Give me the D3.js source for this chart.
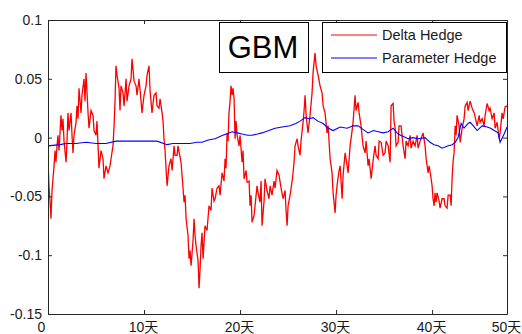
<!DOCTYPE html>
<html><head><meta charset="utf-8">
<script src="https://cdn.jsdelivr.net/npm/d3@7/dist/d3.min.js"></script>
<style>
html,body{margin:0;padding:0;background:#fff;}
svg{display:block;font-family:"Liberation Sans","Noto Sans CJK SC",sans-serif;}
</style></head>
<body><svg id="chart" width="522" height="334"></svg>
<script>
const title = "GBM";
const seriesNames = ["Delta Hedge", "Parameter Hedge"];
const seriesColors = ["#ff0000", "#0000ff"];
const xTickValues = [0, 10, 20, 30, 40, 47.8];
const xTickLabels = ["0", "10天", "20天", "30天", "40天", "50天"];
const yTickValues = [-0.15, -0.1, -0.05, 0, 0.05, 0.1];
const yTickLabels = ["-0.15", "-0.1", "-0.05", "0", "0.05", "0.1"];
const xDomain = [0, 47.8];
const yDomain = [-0.15, 0.1];

// [day, value]
const deltaHedge = [
[0,-0.020],[0.10,-0.041],[0.21,-0.054],[0.31,-0.069],[0.42,-0.045],[0.52,-0.035],[0.63,-0.024],[0.73,-0.011],[0.83,-0.021],[0.94,-0.007],
[1.04,0.002],[1.15,-0.011],[1.35,0.019],[1.46,0.006],[1.56,0.016],[1.67,-0.003],[1.88,-0.021],[1.98,-0.003],[2.08,0.021],[2.19,0.006],
[2.40,0.021],[2.50,0.002],[2.60,-0.013],[2.71,0.002],[2.92,0.013],[3.02,0.027],[3.13,0.016],[3.23,0.042],[3.44,0.021],[3.54,0.036],
[3.75,0.050],[3.85,0.031],[3.96,0.055],[4.17,0.021],[4.27,0.008],[4.48,0.023],[4.69,0.019],[4.79,0.006],[5.00,0.002],[5.10,0.014],
[5.31,-0.026],[5.52,-0.011],[5.73,-0.018],[5.83,-0.035],[6.04,-0.024],[6.25,-0.030],[6.46,-0.024],[6.56,-0.018],[6.77,-0.007],[6.88,0.010],
[6.98,0.031],[7.08,0.061],[7.19,0.053],[7.40,0.042],[7.50,0.023],[7.60,0.044],[7.81,0.038],[7.92,0.027],[8.13,0.050],[8.23,0.031],
[8.44,0.044],[8.65,0.050],[8.75,0.067],[8.96,0.048],[9.17,0.044],[9.27,0.036],[9.48,0.050],[9.69,0.031],[9.79,0.021],[10.00,0.036],
[10.21,0.044],[10.31,0.053],[10.52,0.061],[10.63,0.040],[10.83,0.021],[11.04,0.036],[11.25,0.038],[11.35,0.027],[11.56,0.025],[11.67,0.033],
[11.88,0.021],[11.98,0.014],[12.08,-0.001],[12.19,-0.011],[12.29,-0.026],[12.40,-0.041],[12.60,-0.024],[12.81,-0.018],[12.92,-0.028],[13.13,-0.007],
[13.23,-0.015],[13.44,-0.015],[13.54,-0.007],[13.85,-0.021],[13.96,-0.032],[14.17,-0.055],[14.27,-0.049],[14.38,-0.069],[14.58,-0.083],[14.69,-0.103],
[14.79,-0.096],[14.90,-0.109],[15.10,-0.088],[15.21,-0.069],[15.31,-0.083],[15.42,-0.092],[15.63,-0.105],[15.73,-0.128],[15.83,-0.113],[15.94,-0.092],
[16.04,-0.081],[16.15,-0.103],[16.35,-0.075],[16.56,-0.079],[16.77,-0.058],[16.98,-0.062],[17.08,-0.043],[17.29,-0.054],[17.40,-0.052],[17.60,-0.043],
[17.81,-0.041],[17.92,-0.049],[18.13,-0.030],[18.33,-0.037],[18.44,-0.018],[18.54,-0.026],[18.65,0.004],[18.75,-0.003],[18.85,0.021],[18.96,0.031],
[19.06,0.044],[19.17,0.036],[19.27,0.042],[19.38,0.033],[19.48,-0.001],[19.58,0.014],[19.69,0.002],[19.90,-0.007],[20.00,0.002],[20.21,-0.021],
[20.31,-0.011],[20.42,-0.035],[20.63,-0.028],[20.73,-0.038],[20.94,-0.037],[21.04,-0.058],[21.15,-0.049],[21.25,-0.072],[21.46,-0.066],[21.56,-0.058],
[21.77,-0.041],[21.88,-0.047],[22.08,-0.055],[22.19,-0.037],[22.29,-0.075],[22.50,-0.054],[22.60,-0.035],[22.81,-0.045],[23.02,-0.052],[23.13,-0.041],
[23.33,-0.049],[23.54,-0.037],[23.65,-0.043],[23.85,-0.028],[24.06,-0.032],[24.27,-0.043],[24.48,-0.052],[24.69,-0.045],[24.79,-0.062],[24.90,-0.075],
[25.00,-0.058],[25.21,-0.049],[25.42,-0.037],[25.52,-0.030],[25.63,-0.020],[25.73,-0.007],[25.94,-0.001],[26.04,-0.007],[26.25,-0.015],[26.35,-0.003],
[26.56,0.013],[26.67,0.023],[26.77,0.036],[26.88,0.019],[27.08,0.004],[27.29,0.019],[27.50,0.038],[27.60,0.055],[27.81,0.072],[27.92,0.061],
[28.13,0.053],[28.33,0.044],[28.54,0.038],[28.65,0.027],[28.85,0.021],[29.06,0.004],[29.17,0.010],[29.38,-0.018],[29.58,-0.030],[29.69,-0.047],
[29.90,-0.064],[30.00,-0.049],[30.10,-0.041],[30.31,-0.028],[30.42,-0.024],[30.63,-0.052],[30.73,-0.032],[30.94,-0.013],[31.15,-0.024],[31.25,-0.030],
[31.46,-0.007],[31.67,0.006],[31.77,0.013],[31.98,0.036],[32.08,0.023],[32.29,0.030],[32.40,0.021],[32.60,0.010],[32.81,-0.007],[33.02,-0.013],
[33.13,-0.003],[33.33,-0.024],[33.44,-0.018],[33.65,-0.035],[33.85,-0.020],[34.06,-0.007],[34.17,-0.015],[34.38,-0.018],[34.48,-0.003],[34.69,-0.004],
[34.90,-0.015],[35.10,-0.013],[35.21,-0.003],[35.42,-0.007],[35.63,-0.021],[35.73,0.027],[35.94,0.029],[36.04,0.014],[36.15,0.008],[36.25,-0.007],
[36.46,-0.004],[36.56,0.010],[36.77,0.010],[36.98,-0.007],[37.19,-0.018],[37.29,-0.003],[37.50,-0.007],[37.71,0.002],[37.81,-0.009],[38.02,-0.003],
[38.23,-0.007],[38.44,0.002],[38.54,-0.009],[38.75,-0.003],[38.85,-0.001],[39.06,0.004],[39.27,-0.007],[39.38,-0.018],[39.58,-0.030],[39.69,-0.024],
[39.90,-0.035],[40.00,-0.041],[40.10,-0.052],[40.21,-0.058],[40.31,-0.047],[40.42,-0.055],[40.52,-0.047],[40.73,-0.054],[40.83,-0.060],[41.04,-0.052],
[41.25,-0.052],[41.35,-0.058],[41.56,-0.060],[41.67,-0.049],[41.88,-0.049],[41.98,-0.058],[42.08,-0.035],[42.19,-0.020],[42.29,-0.013],[42.40,0.010],
[42.50,0.002],[42.60,0.019],[42.81,0.010],[42.92,-0.004],[43.13,0.008],[43.33,0.016],[43.44,0.027],[43.65,0.030],[43.75,0.023],[43.96,0.031],
[44.17,0.025],[44.38,0.021],[44.58,0.014],[44.69,0.010],[44.90,0.019],[45.00,0.013],[45.21,0.016],[45.42,0.010],[45.52,0.019],[45.73,0.029],
[45.94,0.023],[46.04,0.025],[46.25,0.016],[46.46,0.021],[46.56,0.008],[46.77,0.013],[46.98,-0.001],[47.08,0.004],[47.29,0.021],[47.40,0.016],
[47.60,0.026],[47.81,0.027]
];

const parameterHedge = [
[0,-0.007],[1.25,-0.006],[1.88,-0.005],[2.9,-0.005],[3.96,-0.004],[5.00,-0.005],[6.04,-0.005],[7.08,-0.003],[8.13,-0.003],[9.58,-0.003],
[10.5,-0.003],[11.35,-0.003],[12.40,-0.006],[13.0,-0.005],[13.75,-0.005],[14.79,-0.005],[15.5,-0.004],[16.04,-0.004],[16.7,-0.002],[17.40,-0.001],
[18.2,0.002],[18.85,0.004],[19.17,0.005],[19.7,0.004],[20.21,0.003],[20.8,0.002],[21.25,0.002],[21.8,0.003],[22.29,0.004],[23.0,0.006],
[23.65,0.008],[24.38,0.009],[25.21,0.010],[25.8,0.012],[26.25,0.014],[26.77,0.017],[27.2,0.016],[27.60,0.017],[28.1,0.014],[28.65,0.012],
[29.2,0.008],[29.69,0.006],[30.42,0.009],[31.15,0.008],[31.77,0.010],[32.29,0.010],[32.8,0.007],[33.33,0.004],[33.9,0.006],[34.38,0.005],
[34.9,0.004],[35.42,0.005],[35.94,0.008],[36.46,0.003],[37.0,0.001],[37.50,-0.001],[38.0,0.000],[38.54,-0.001],[39.27,0.000],[39.79,-0.004],
[40.2,-0.006],[40.63,-0.007],[41.04,-0.009],[41.67,-0.007],[42.1,-0.006],[42.40,-0.004],[42.71,0.000],[43.02,0.012],[43.33,0.008],[43.75,0.012],
[43.96,0.013],[44.3,0.010],[44.69,0.006],[45.21,0.010],[45.73,0.009],[46.1,0.008],[46.46,0.006],[46.88,0.004],[47.08,-0.004],[47.50,0.003],
[47.81,0.009]
];

const W = 522, H = 334;
const margin = {left: 48, top: 20, right: 15, bottom: 20};
const svg = d3.select("#chart");
const x = d3.scaleLinear().domain(xDomain).range([margin.left, W - margin.right]);
const y = d3.scaleLinear().domain(yDomain).range([H - margin.bottom, margin.top]);

const clipId = "plotclip";
svg.append("clipPath").attr("id", clipId).append("rect")
  .attr("x", x(xDomain[0])).attr("y", y(yDomain[1]))
  .attr("width", x(xDomain[1]) - x(xDomain[0])).attr("height", y(yDomain[0]) - y(yDomain[1]));

const line = d3.line().x(d => x(d[0])).y(d => y(d[1]));
const g = svg.append("g").attr("clip-path", `url(#${clipId})`);
g.append("path").datum(deltaHedge).attr("d", line)
  .attr("fill", "none").attr("stroke", seriesColors[0]).attr("stroke-width", 1.3).attr("stroke-linejoin", "miter");
g.append("path").datum(parameterHedge).attr("d", line)
  .attr("fill", "none").attr("stroke", seriesColors[1]).attr("stroke-width", 1.1);

const axisColor = "#262626";
function styleAxis(sel) {
  sel.selectAll("path.domain").attr("stroke", axisColor);
  sel.selectAll(".tick line").attr("stroke", axisColor);
  sel.selectAll(".tick text").attr("fill", "#1a1a1a").attr("font-size", 14)
    .attr("font-family", "'Liberation Sans','Noto Sans CJK SC',sans-serif");
}
const xb = svg.append("g").attr("transform", `translate(0,${y(yDomain[0])})`)
  .call(d3.axisBottom(x).tickValues(xTickValues).tickFormat((d, i) => xTickLabels[i]).tickSizeInner(-4).tickSizeOuter(0).tickPadding(5));
styleAxis(xb);
xb.selectAll(".tick text").attr("dy", "0.95em").attr("dx", (d, i) => i === 0 ? -7 : -1);

const xt = svg.append("g").attr("transform", `translate(0,${y(yDomain[1])})`)
  .call(d3.axisTop(x).tickValues(xTickValues).tickFormat("").tickSizeInner(-4).tickSizeOuter(0));
styleAxis(xt);

const yl = svg.append("g").attr("transform", `translate(${x(xDomain[0])},0)`)
  .call(d3.axisLeft(y).tickValues(yTickValues).tickFormat((d, i) => yTickLabels[i]).tickSizeInner(-4).tickSizeOuter(0).tickPadding(6));
styleAxis(yl);

const yr = svg.append("g").attr("transform", `translate(${x(xDomain[1])},0)`)
  .call(d3.axisRight(y).tickValues(yTickValues).tickFormat("").tickSizeInner(-4).tickSizeOuter(0));
styleAxis(yr);

// Title box
const tb = svg.append("g");
tb.append("rect").attr("x", 219.5).attr("y", 22.5).attr("width", 89).attr("height", 50)
  .attr("fill", "#fff").attr("stroke", "#000").attr("stroke-width", 1);
tb.append("text").attr("x", 263).attr("y", 57.5).attr("text-anchor", "middle")
  .attr("font-size", 31).attr("fill", "#000").text(title);

// Legend
const lg = svg.append("g");
lg.append("rect").attr("x", 322.5).attr("y", 22.5).attr("width", 184).attr("height", 50)
  .attr("fill", "#fff").attr("stroke", "#000").attr("stroke-width", 1);
seriesNames.forEach((name, i) => {
  const ly = 35 + i * 23;
  lg.append("line").attr("x1", 331).attr("x2", 377).attr("y1", ly).attr("y2", ly)
    .attr("stroke", seriesColors[i]).attr("stroke-width", 1);
  lg.append("text").attr("x", 382).attr("y", ly + 5).attr("font-size", 14.5).attr("fill", "#1a1a1a").text(name);
});
</script>
</body></html>
